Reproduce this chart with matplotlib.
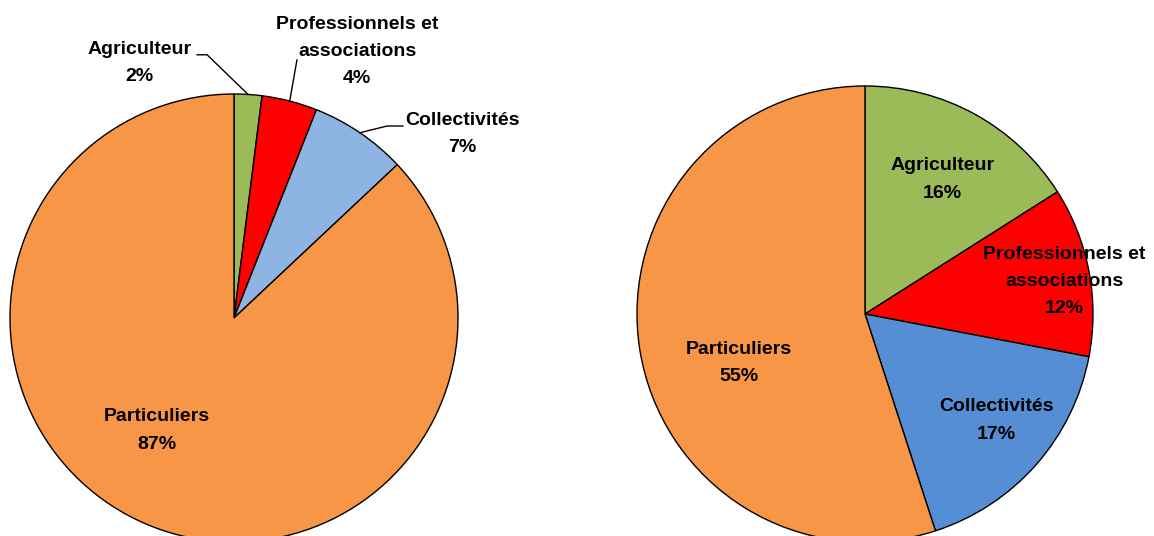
import matplotlib
matplotlib.use("Agg")
import matplotlib.pyplot as plt
import numpy as np

plt.rcParams['font.family'] = ['Liberation Sans Narrow', 'Liberation Sans', 'DejaVu Sans']

labels = ["Agriculteur", "Professionnels et\nassociations", "Collectivités", "Particuliers"]
left_values = [2, 4, 7, 87]
right_values = [16, 12, 17, 55]
left_colors = ["#9BBB59", "#FF0000", "#8DB4E2", "#F79646"]
right_colors = ["#9BBB59", "#FF0000", "#558ED5", "#F79646"]

W, H = 1154, 536
fig = plt.figure(figsize=(W / 100, H / 100), dpi=100)


def make_axes(cx, cy, r):
    # pie centre / radius in pixels (y from top)
    ax = fig.add_axes([(cx - r) / W, (H - cy - r) / H, 2 * r / W, 2 * r / H])
    ax.set_xlim(-1, 1)
    ax.set_ylim(-1, 1)
    ax.axis("off")
    return ax


def mid_angles(values):
    cum = np.cumsum([0] + list(values))
    tot = cum[-1]
    return [np.deg2rad(90 - 360 * (cum[i] + cum[i + 1]) / 2 / tot) for i in range(len(values))]


txt = dict(fontsize=14, fontweight="bold", ha="center", va="center", linespacing=1.78)

# left pie
ax1 = make_axes(234, 318, 224)
ax1.pie(left_values, colors=left_colors, startangle=90, counterclock=False, radius=1,
        wedgeprops=dict(edgecolor="black", linewidth=1.0))
ax1.set_xlim(-1, 1)
ax1.set_ylim(-1, 1)
ang = mid_angles(left_values)
lab_l = [f"{l}\n{v}%" for l, v in zip(labels, left_values)]
text_pos = [(-0.42, 1.14), (0.55, 1.19), (1.02, 0.82), (-0.344, -0.502)]
for t, (x, y) in zip(lab_l, text_pos):
    ax1.text(x, y, t, clip_on=False, **txt)

# leader lines (elbow points), from slice arc
elbows = [[(-0.12, 1.175), (-0.165, 1.175)],
          [(0.281, 1.152)],
          [(0.683, 0.857), (0.754, 0.857)]]
for a, pts in zip(ang[:3], elbows):
    xs = [np.cos(a)] + [p[0] for p in pts]
    ys = [np.sin(a)] + [p[1] for p in pts]
    ax1.plot(xs, ys, color="black", lw=1.0, clip_on=False)

# right pie
ax2 = make_axes(865, 314, 228)
ax2.pie(right_values, colors=right_colors, startangle=90, counterclock=False, radius=1,
        wedgeprops=dict(edgecolor="black", linewidth=1.0))
ax2.set_xlim(-1, 1)
ax2.set_ylim(-1, 1)
lab_r = [f"{l}\n{v}%" for l, v in zip(labels, right_values)]
text_pos_r = [(0.34, 0.59), (0.875, 0.141), (0.575, -0.467), (-0.555, -0.216)]
for t, (x, y) in zip(lab_r, text_pos_r):
    ax2.text(x, y, t, clip_on=False, **txt)

fig.savefig("out.png", dpi=100)
